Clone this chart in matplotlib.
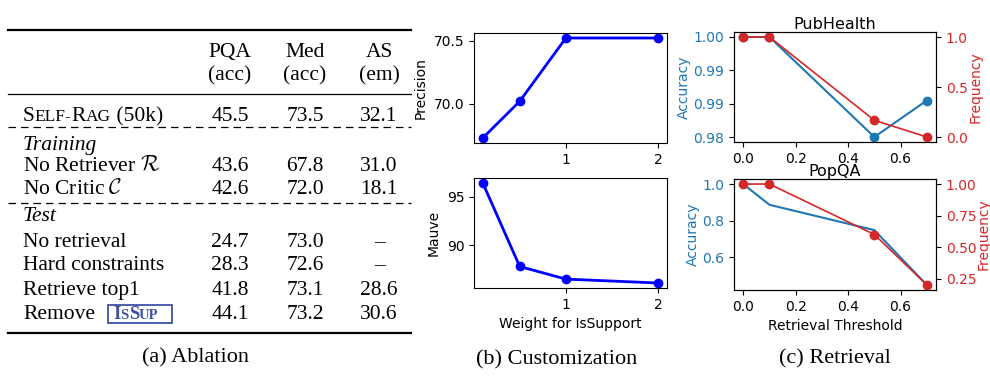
import numpy as np
import matplotlib
matplotlib.use('Agg')
import matplotlib.pyplot as plt
from matplotlib.patches import Rectangle
from matplotlib.ticker import FormatStrFormatter

plt.rcParams['mathtext.fontset'] = 'cm'
plt.rcParams['font.size'] = 10

# (a) ablation table
col_names = ['PQA', 'Med', 'AS']
col_units = ['(acc)', '(acc)', '(em)']
full_scores = ['45.5', '73.5', '32.1']
train_rows = [r'No Retriever $\mathcal{R}$', r'No Critic $\mathcal{C}$']
train_scores = [['43.6', '67.8', '31.0'],
                ['42.6', '72.0', '18.1']]
test_rows = ['No retrieval', 'Hard constraints', 'Retrieve top1', 'Remove']
test_scores = [['24.7', '73.0', '–'],
               ['28.3', '72.6', '–'],
               ['41.8', '73.1', '28.6'],
               ['44.1', '73.2', '30.6']]

# (b) customization
weights = [0.1, 0.5, 1.0, 2.0]
precision = [69.73, 70.02, 70.52, 70.52]
mauve = [96.4, 87.8, 86.5, 86.1]

# (c) retrieval threshold
thresholds = [0.0, 0.1, 0.5, 0.7]
pub_acc = [1.0, 1.0, 0.980, 0.9873]
pub_freq = [1.0, 1.0, 0.167, 0.0]
pop_acc = [1.0, 0.887, 0.749, 0.45]
pop_freq = [1.0, 1.0, 0.6, 0.2]

W, H = 990, 377
fig = plt.figure(figsize=(W / 100, H / 100), dpi=100)

# full-figure axes in pixel units for the table and captions
tab = fig.add_axes([0, 0, 1, 1])
tab.set_xlim(0, W)
tab.set_ylim(H, 0)
tab.axis('off')

serif = 'Liberation Serif'
fs = 15.5
col_x = [230, 305, 379]
left = 23


def chain(ax, x, y, parts, **kw):
    # place text pieces one after another on a shared baseline
    prev = ax.text(x, y, parts[0][0], fontsize=parts[0][1], va='baseline', **kw)
    for s, size in parts[1:]:
        prev = ax.annotate(s, xy=(1, y), xycoords=(prev, 'data'), fontsize=size,
                           va='baseline', ha='left', **kw)
    return prev


def row(y, label, scores, **kw):
    if label is not None:
        tab.text(left, y + 7, label, fontsize=fs, family=serif, va='baseline', **kw)
    for x, s in zip(col_x, scores):
        tab.text(x, y + 7, s, fontsize=fs, family=serif, ha='center', va='baseline')


# rules
tab.plot([8, 411], [30, 30], color='black', lw=1.6)
tab.plot([8, 411], [94, 94], color='black', lw=0.9)
tab.plot([8, 411], [333, 333], color='black', lw=1.6)
for yy in [127, 203]:
    tab.plot([8, 411], [yy, yy], color='black', lw=0.9, ls=(0, (6, 4)))

# header
for x, name, unit in zip(col_x, col_names, col_units):
    tab.text(x, 50 + 7, name, fontsize=fs, family=serif, ha='center', va='baseline')
    tab.text(x, 73 + 7, unit, fontsize=fs, family=serif, ha='center', va='baseline')

# Self-Rag row in small caps
chain(tab, left, 114 + 7, [('S', fs), ('ELF-', 12.5), ('R', fs), ('AG', 12.5), (' (50k)', fs)],
      family=serif)
row(114, None, full_scores)

tab.text(left, 143 + 7, 'Training', fontsize=fs, family=serif, style='italic', va='baseline')
for y, lab, sc in zip([164, 187], train_rows, train_scores):
    row(y, lab, sc)

tab.text(left, 214 + 7, 'Test', fontsize=fs, family=serif, style='italic', va='baseline')
for y, lab, sc in zip([240, 263, 288, 312], test_rows, test_scores):
    row(y, lab, sc)

# IsSup token box
box_col = '#3f51a5'
tab.add_patch(Rectangle((108, 305), 64, 18, fill=False, edgecolor=box_col, lw=1.3))
chain(tab, 113, 319, [('I', 13.5), ('S', 10.5), ('S', 13.5), ('UP', 10.5)],
      family=serif, weight='bold', color=box_col)

# captions
tab.text(196, 358, '(a) Ablation', fontsize=16, family=serif, ha='center', va='center')
tab.text(557, 360, '(b) Customization', fontsize=16, family=serif, ha='center', va='center')
tab.text(835, 359, '(c) Retrieval', fontsize=16, family=serif, ha='center', va='center')


def px_axes(l, t, r, b):
    return fig.add_axes([l / W, (H - b) / H, (r - l) / W, (b - t) / H])


# (b) customization
ax_p = px_axes(474, 33, 667, 143)
ax_p.plot(weights, precision, color='blue', lw=2, marker='o', ms=6)
ax_p.set_ylabel('Precision')
ax_p.set_xticks([1, 2])

ax_m = px_axes(474, 178, 667, 288)
ax_m.plot(weights, mauve, color='blue', lw=2, marker='o', ms=6)
ax_m.set_ylabel('Mauve')
ax_m.set_xticks([1, 2])
ax_m.set_xlabel('Weight for IsSupport')

# (c) retrieval
blue, red = 'tab:blue', 'tab:red'

ax1 = px_axes(734, 32, 936, 142)
ax1.plot(thresholds, pub_acc, color=blue, marker='o', ms=6, lw=1.5)
ax1.set_yticks(np.linspace(min(pub_acc), max(pub_acc), 4))
ax1.yaxis.set_major_formatter(FormatStrFormatter('%.2f'))
ax1.set_ylabel('Accuracy', color=blue, labelpad=2)
ax1.tick_params(axis='y', labelcolor=blue)
ax1.set_title('PubHealth', fontsize=11.5, pad=2)
ax1b = ax1.twinx()
ax1b.plot(thresholds, pub_freq, color=red, marker='o', ms=6, lw=1.2)
ax1b.set_yticks([0.0, 0.5, 1.0])
ax1b.set_ylabel('Frequency', color=red, labelpad=1)
ax1b.tick_params(axis='y', labelcolor=red)
ax1.set_xticks([0.0, 0.2, 0.4, 0.6])

ax2 = px_axes(734, 179, 936, 290)
ax2.plot(thresholds, pop_acc, color=blue, lw=1.5)
ax2.set_yticks([0.6, 0.8, 1.0])
ax2.set_ylabel('Accuracy', color=blue, labelpad=2)
ax2.tick_params(axis='y', labelcolor=blue)
ax2.set_title('PopQA', fontsize=11.5, pad=2)
ax2.set_xlabel('Retrieval Threshold')
ax2b = ax2.twinx()
ax2b.plot(thresholds, pop_freq, color=red, marker='o', ms=6, lw=1.2)
ax2b.set_yticks([0.25, 0.5, 0.75, 1.0])
ax2b.yaxis.set_major_formatter(FormatStrFormatter('%.2f'))
ax2b.set_ylabel('Frequency', color=red, labelpad=0)
ax2b.tick_params(axis='y', labelcolor=red)
ax2.set_xticks([0.0, 0.2, 0.4, 0.6])

fig.savefig('out.png', dpi=100)
